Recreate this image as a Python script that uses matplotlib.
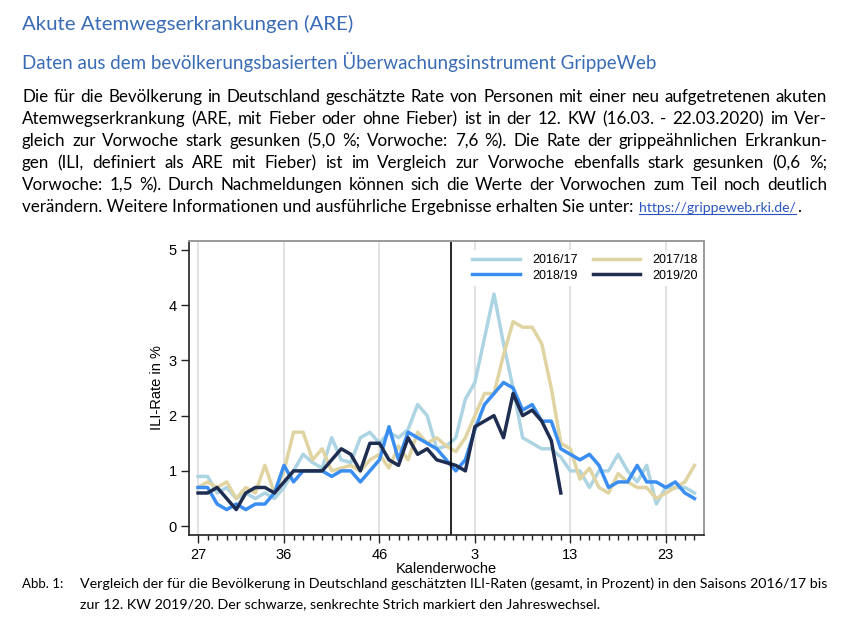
import numpy as np
import matplotlib.pyplot as plt

# ILI-Rate in % je Kalenderwoche (Index 0 = KW 27 ... Index 52 = KW 26)
weeks = list(range(27, 54)) + list(range(1, 27))
s1617 = [0.9, 0.9, 0.6, 0.7, 0.5, 0.6, 0.5, 0.6, 0.5, 0.7, 1.0, 1.3, 1.15,
         1.05, 1.6, 1.2, 1.15, 1.6, 1.7, 1.5, 1.7, 1.6, 1.75, 2.2, 2.0, 1.4, 1.45, 1.6, 2.3, 2.6,
         3.4, 4.2, 3.3, 2.5, 1.6, 1.5, 1.4, 1.4, 1.25, 1.0, 1.0, 0.7, 1.0, 1.0, 1.3,
         1.0, 0.8, 1.1, 0.4, 0.7, 0.7, 0.7, 0.6]
s1718 = [0.7, 0.8, 0.7, 0.8, 0.5, 0.7, 0.6, 1.1, 0.6, 1.0, 1.7, 1.7, 1.2,
         1.4, 1.0, 1.05, 1.1, 1.0, 1.2, 1.3, 1.05, 1.45, 1.2, 1.7, 1.5, 1.6, 1.45, 1.35, 1.6, 2.0,
         2.4, 2.4, 3.1, 3.7, 3.6, 3.6, 3.3, 2.5, 1.5, 1.4, 0.85, 1.05, 0.7, 0.6, 0.95,
         0.8, 0.7, 0.7, 0.5, 0.6, 0.7, 0.8, 1.1]
s1819 = [0.7, 0.7, 0.4, 0.3, 0.4, 0.3, 0.4, 0.4, 0.6, 1.1, 0.8, 1.0, 1.0,
         1.0, 0.9, 1.0, 1.0, 0.8, 1.0, 1.2, 1.8, 1.2, 1.7, 1.6, 1.5, 1.4, 1.2, 1.0, 1.2, 1.75,
         2.2, 2.4, 2.6, 2.5, 2.1, 2.2, 1.9, 1.9, 1.4, 1.3, 1.2, 1.3, 1.1, 0.7, 0.8,
         0.8, 1.1, 0.8, 0.8, 0.7, 0.8, 0.6, 0.5]
s1920 = [0.6, 0.6, 0.7, 0.5, 0.3, 0.6, 0.7, 0.7, 0.6, 0.8, 1.0, 1.0, 1.0,
         1.0, 1.2, 1.4, 1.3, 1.0, 1.5, 1.5, 1.2, 1.1, 1.6, 1.3, 1.4, 1.2, 1.15, 1.1, 1.0, 1.8,
         1.9, 2.0, 1.6, 2.4, 2.0, 2.1, 1.9, 1.55, 0.6]
major_weeks = [27, 36, 46, 3, 13, 23]

title = 'Akute Atemwegserkrankungen (ARE)'
subtitle = 'Daten aus dem bevölkerungsbasierten Überwachungsinstrument GrippeWeb'
para = [
    'Die für die Bevölkerung in Deutschland geschätzte Rate von Personen mit einer neu aufgetretenen akuten',
    'Atemwegserkrankung (ARE, mit Fieber oder ohne Fieber) ist in der 12. KW (16.03. - 22.03.2020) im Ver-',
    'gleich zur Vorwoche stark gesunken (5,0 %; Vorwoche: 7,6 %). Die Rate der grippeähnlichen Erkrankun-',
    'gen (ILI, definiert als ARE mit Fieber) ist im Vergleich zur Vorwoche ebenfalls stark gesunken (0,6 %;',
    'Vorwoche: 1,5 %). Durch Nachmeldungen können sich die Werte der Vorwochen zum Teil noch deutlich',
]
last_line = 'verändern. Weitere Informationen und ausführliche Ergebnisse erhalten Sie unter:'
link = 'https://grippeweb.rki.de/'
caption = ['Vergleich der für die Bevölkerung in Deutschland geschätzten ILI-Raten (gesamt, in Prozent) in den Saisons 2016/17 bis',
           'zur 12. KW 2019/20. Der schwarze, senkrechte Strich markiert den Jahreswechsel.']

W, H = 852, 630
BLUE_TXT = '#3a6cb5'
TXT_FONT = 'Lato'

fig = plt.figure(figsize=(W / 100, H / 100), dpi=100)
fig.patch.set_facecolor('white')
renderer = fig.canvas.get_renderer()


def px(x, y):
    return x / W, 1 - y / H


def width_of(t):
    return t.get_window_extent(renderer).width


def fit_text(x, y, s, width, **kw):
    t = fig.text(*px(x, y), s, fontsize=10, va='baseline', **kw)
    t.set_fontsize(10 * width / width_of(t))
    return t


def justify(x0, x1, y, line, size, **kw):
    words = line.split(' ')
    ts = [fig.text(*px(x0, y), w, fontsize=size, va='baseline', **kw) for w in words]
    ws = [width_of(t) for t in ts]
    gap = (x1 - x0 - sum(ws)) / (len(ws) - 1)
    x = x0
    for t, w in zip(ts, ws):
        t.set_x(x / W)
        x += w + gap


# header texts
fit_text(22, 30, title, 332, color=BLUE_TXT, family=TXT_FONT)
fit_text(22, 69, subtitle, 635, color=BLUE_TXT, family=TXT_FONT)

# paragraph, justified like the source
probe = fig.text(0, 0, para[0], fontsize=10, family=TXT_FONT)
body_size = 10 * 795 / width_of(probe)
probe.remove()
for i, line in enumerate(para):
    justify(22, 827, 102 + 22 * i, line, body_size, family=TXT_FONT, color='black')
t_last = fig.text(*px(22, 102 + 22 * 5), last_line, fontsize=body_size, va='baseline',
                  family=TXT_FONT, color='black')
x_link = 22 + width_of(t_last) + 6
t_link = fig.text(*px(x_link, 212), link, fontsize=body_size * 0.82, va='baseline',
                  family=TXT_FONT, color='#2a55c0')
x_end = x_link + width_of(t_link)
fig.add_artist(plt.Line2D([x_link / W, x_end / W], [1 - 214 / H, 1 - 214 / H],
                          color='#2a55c0', lw=0.8))
fig.text(*px(x_end + 1, 212), '.', fontsize=body_size, va='baseline', family=TXT_FONT)

# caption
fig.text(*px(22, 588), 'Abb. 1:', fontsize=9.5, va='baseline', family=TXT_FONT)
cap1 = fit_text(80, 588, caption[0], 745, family=TXT_FONT)
fig.text(*px(80, 608), caption[1], fontsize=cap1.get_fontsize(), va='baseline', family=TXT_FONT)

# chart
ax = fig.add_axes([189 / W, 1 - 535 / H, (704 - 189) / W, (535 - 241) / H])
idx = np.arange(len(weeks))
major_idx = [weeks.index(w) if w >= 27 else weeks.index(w, 27) for w in major_weeks]
for x in major_idx:
    ax.axvline(x, color='#dcdcdc', lw=1.2, zorder=0)
h1 = ax.plot(idx, s1617, color='#add4e3', lw=2.5, label='2016/17')[0]
h2 = ax.plot(idx, s1718, color='#e0d4a2', lw=2.5, label='2017/18')[0]
h3 = ax.plot(idx, s1819, color='#3a8ef2', lw=2.5, label='2018/19')[0]
h4 = ax.plot(idx[:len(s1920)], s1920, color='#1e2d50', lw=2.5, label='2019/20')[0]
ax.axvline(26.5, color='black', lw=1.2)

ax.set_xlim(-0.95, 53)
ax.set_ylim(-0.16, 5.16)
ax.set_xticks(major_idx)
ax.set_xticklabels([str(w) for w in major_weeks])
ax.set_xticks(idx, minor=True)
ax.set_yticks(range(6))
ax.tick_params(axis='both', labelsize=10.5, color='#222222', width=1, length=6)
ax.tick_params(axis='x', which='minor', length=3.5, width=1, color='#222222')
ax.tick_params(axis='y', pad=3)
for lab in ax.get_xticklabels() + ax.get_yticklabels():
    lab.set_family('Liberation Sans')
for side in ['top', 'right']:
    ax.spines[side].set_color('#9a9a9a')
    ax.spines[side].set_linewidth(1.4)
for side in ['left', 'bottom']:
    ax.spines[side].set_color('#222222')
    ax.spines[side].set_linewidth(1.2)
ax.set_xlabel('Kalenderwoche', fontsize=10.5, family='Liberation Sans', labelpad=0)
ax.set_ylabel('ILI-Rate in %', fontsize=10.5, family='Liberation Sans', labelpad=3)

leg = ax.legend([h1, h3, h2, h4], ['2016/17', '2018/19', '2017/18', '2019/20'],
                ncol=2, loc='upper left', bbox_to_anchor=px(462, 244),
                bbox_transform=fig.transFigure, frameon=True, framealpha=1,
                edgecolor='none', handlelength=3.8, columnspacing=1.2,
                handletextpad=1.0, labelspacing=0.3, borderpad=0.3,
                prop={'family': 'Liberation Sans', 'size': 9})

fig.savefig('out.png', dpi=100)
